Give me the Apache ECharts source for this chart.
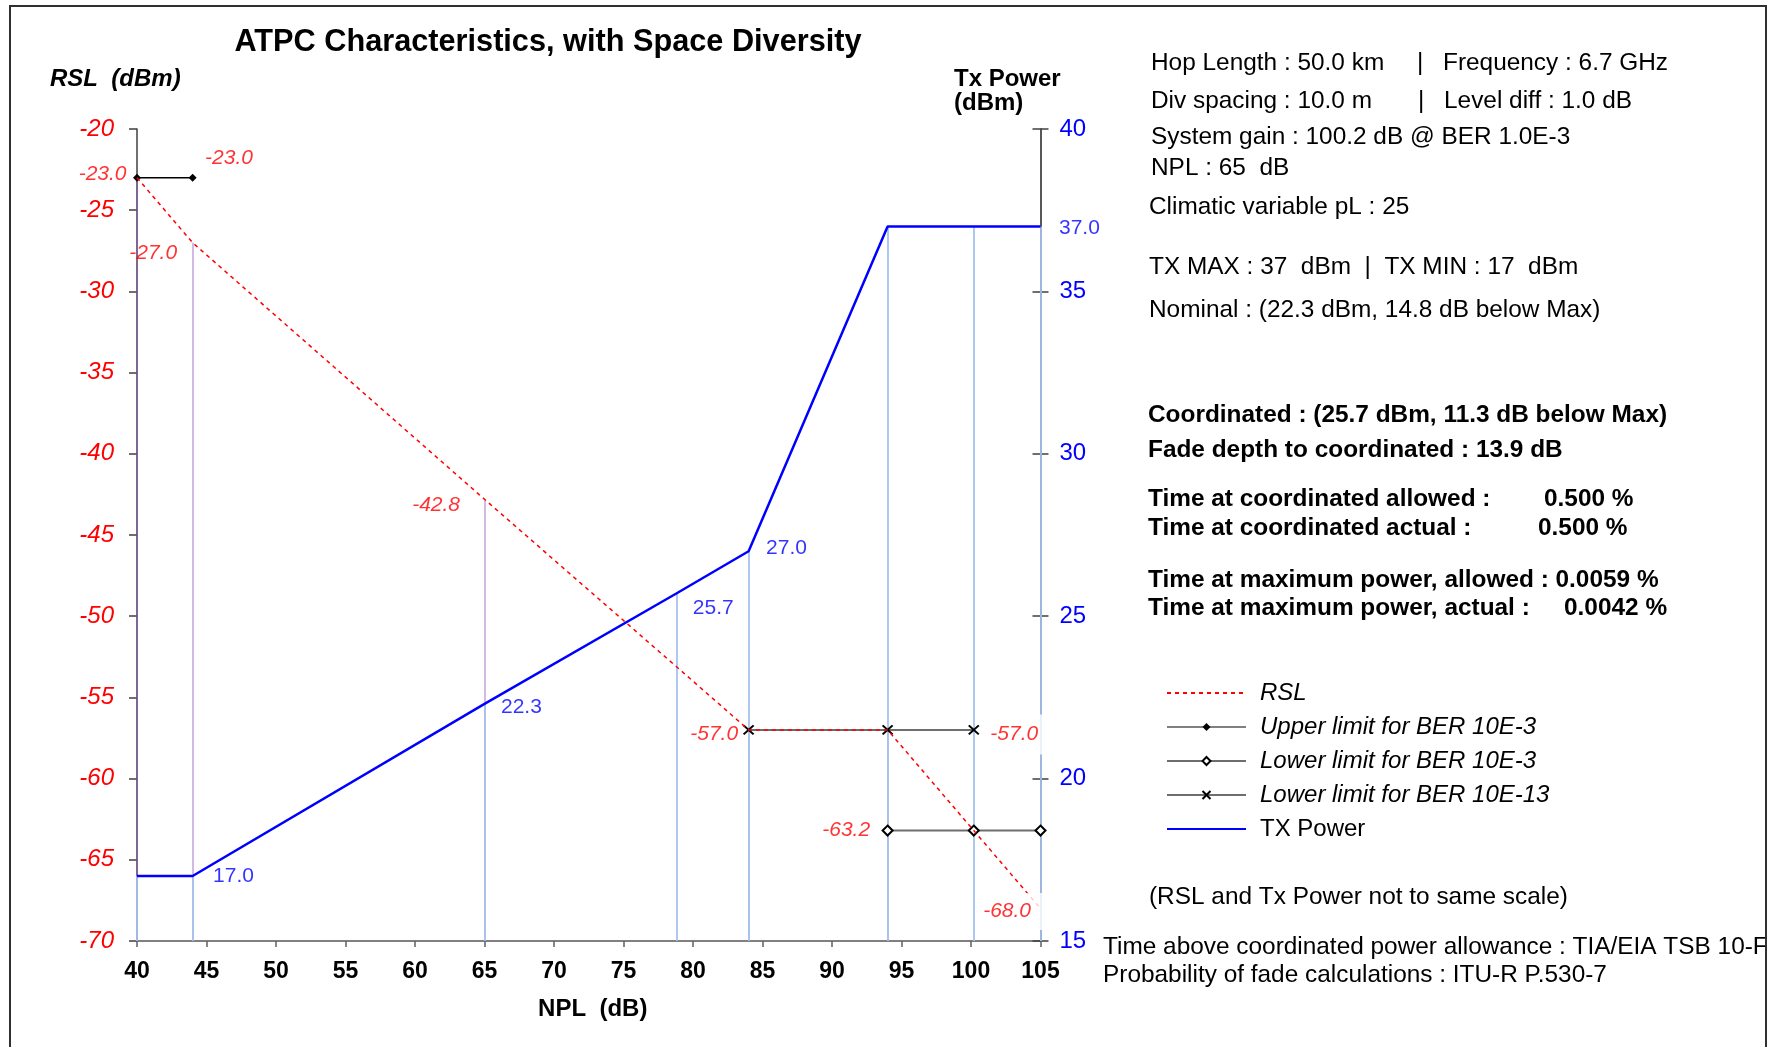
<!DOCTYPE html>
<html><head><meta charset="utf-8">
<script src="https://cdn.jsdelivr.net/npm/echarts@6/dist/echarts.min.js"></script>
<style>html,body{margin:0;padding:0;background:#fff}#c{width:1775px;height:1047px}</style>
</head><body><div id="c"></div>
<script>
const FONT = '"Liberation Sans", Arial, sans-serif';

// ---- data ----
const npl      = [40, 44, 65, 78.8, 84, 94, 100.2, 105];           // NPL break points (dB)
const txPower  = [17.0, 17.0, 22.3, 25.7, 27.0, 37.0, 37.0, 37.0];  // Tx power (dBm)
const rsl      = [-23.0, -27.0, -42.8, -53.1, -57.0, -57.0, -63.2, -68.0]; // RSL (dBm)
const upperLimitNpl = [40, 44];
const upperLimitRsl = [-23.0, -23.0];
const lower3Npl  = [94, 100.2, 105];
const lower3Rsl  = [-63.2, -63.2, -63.2];
const lower13Npl = [84, 94, 100.2];
const lower13Rsl = [-57.0, -57.0, -57.0];
const rslDropIdx = [0, 1, 2, 4, 5];
const xTicks   = {min: 40, max: 105, interval: 5};
const rslTicks = {min: -70, max: -20, interval: 5};
const txTicks  = {min: 15, max: 40, interval: 5};

const pairs = (xs, ys) => xs.map((x, i) => [x, ys[i]]);
const fmt1 = p => p.value[1].toFixed(1);

const chart = echarts.init(document.getElementById('c'), null, {renderer: 'canvas'});

const redLabel = {show: true, fontFamily: FONT, fontSize: 21, fontStyle: 'italic', color: '#ff0000', formatter: fmt1};
const blueLabel = {show: true, fontFamily: FONT, fontSize: 21, color: '#0000ff', formatter: fmt1};

const rslLabelData = [
  {value: [upperLimitNpl[0], upperLimitRsl[0]], label: {position: 'left', distance: 10, offset: [0, -4]}},
  {value: [upperLimitNpl[1], upperLimitRsl[1]], label: {position: 'right', distance: 12, offset: [0, -20]}},
  {value: [npl[1], rsl[1]], label: {position: 'left', distance: 15, offset: [0, 10]}},
  {value: [npl[2], rsl[2]], label: {position: 'left', distance: 24, offset: [0, 6]}},
  {value: [lower13Npl[0], lower13Rsl[0]], label: {position: 'left', distance: 10, offset: [0, 4]}},
  {value: [lower13Npl[2], lower13Rsl[2]], label: {position: 'right', distance: 12, offset: [0, 4.5], backgroundColor: '#fff', padding: [7, 4, 12, 4]}},
  {value: [lower3Npl[0], lower3Rsl[0]], label: {position: 'left', distance: 17, offset: [0, 0]}},
  {value: [npl[7], rsl[7]], label: {position: 'left', distance: 0, offset: [2, 3], backgroundColor: '#fff', padding: [6.5, 11, 9.5, 6]}}
];
const txLabelData = [
  {value: [npl[1], txPower[1]], label: {position: 'right', distance: 20, offset: [0, 0]}},
  {value: [npl[2], txPower[2]], label: {position: 'right', distance: 16, offset: [0, 3]}},
  {value: [npl[3], txPower[3]], label: {position: 'right', distance: 16, offset: [0, 15]}},
  {value: [npl[4], txPower[4]], label: {position: 'right', distance: 17, offset: [0, -3.5]}},
  {value: [npl[7], txPower[7]], label: {position: 'right', distance: 18, offset: [0, 1.5]}}
];

const infoReg = (x, y, t) => ({type: 'text', x, y, style: {text: t, font: '24.4px ' + FONT, fill: '#000', textVerticalAlign: 'middle'}});
const infoBold = (x, y, t) => ({type: 'text', x, y, style: {text: t, font: 'bold 24.4px ' + FONT, fill: '#000', textVerticalAlign: 'middle'}});
const hiddenSymbol = {color: 'rgba(0,0,0,0)', borderWidth: 0, borderColor: 'rgba(0,0,0,0)'};

const option = {
  animation: false,
  backgroundColor: '#fff',
  grid: {left: 137, top: 129, right: 734.5, bottom: 106, containLabel: false, outerBoundsMode: 'none'},
  xAxis: {
    type: 'value', min: xTicks.min, max: xTicks.max, interval: xTicks.interval,
    name: 'NPL  (dB)', nameLocation: 'middle', nameGap: 56,
    nameTextStyle: {fontFamily: FONT, fontSize: 24, fontWeight: 'bold', color: '#000', padding: [0, 0, 0, 8]},
    axisLine: {lineStyle: {color: '#808080', width: 2}},
    axisTick: {show: true, length: 6, lineStyle: {color: '#606060', width: 1.5}},
    axisLabel: {fontFamily: FONT, fontSize: 23, fontWeight: 'bold', color: '#000', margin: 19},
    splitLine: {show: false}
  },
  yAxis: [
    {
      type: 'value', min: rslTicks.min, max: rslTicks.max, interval: rslTicks.interval, position: 'left',
      axisLine: {show: true, lineStyle: {color: '#404040', width: 1.5}},
      axisTick: {show: true, length: 8, lineStyle: {color: '#404040', width: 1.5}},
      axisLabel: {fontFamily: FONT, fontSize: 24, fontStyle: 'italic', color: '#ff0000', margin: 23},
      splitLine: {show: false}
    },
    {
      type: 'value', min: txTicks.min, max: txTicks.max, interval: txTicks.interval, position: 'right',
      axisLine: {show: true, lineStyle: {color: '#202020', width: 1.5}},
      axisTick: {show: true, length: 8, lineStyle: {color: '#404040', width: 1.5}},
      axisLabel: {fontFamily: FONT, fontSize: 24, color: '#0000ff', margin: 19},
      splitLine: {show: false}
    },
    {
      type: 'value', min: txTicks.min, max: txTicks.max, interval: txTicks.interval, position: 'right',
      axisLine: {show: false},
      axisTick: {show: true, inside: true, length: 8, lineStyle: {color: '#404040', width: 1.5}},
      axisLabel: {show: false},
      splitLine: {show: false}
    }
  ],
  legend: {
    orient: 'vertical', left: 1166, top: 680, padding: 0,
    itemWidth: 79, itemHeight: 10, itemGap: 8,
    textStyle: {fontFamily: FONT, fontSize: 24, color: '#000', lineHeight: 26, padding: [0, 0, 0, 9]},
    selectedMode: false,
    data: [
      {name: 'RSL', textStyle: {fontStyle: 'italic'}, itemStyle: hiddenSymbol},
      {name: 'Upper limit for BER 10E-3', textStyle: {fontStyle: 'italic'}, lineStyle: {color: '#808080'}},
      {name: 'Lower limit for BER 10E-3', textStyle: {fontStyle: 'italic'}},
      {name: 'Lower limit for BER 10E-13', textStyle: {fontStyle: 'italic'}},
      {name: 'TX Power', itemStyle: hiddenSymbol}
    ]
  },
  graphic: [
    {type: 'text', x: 548, y: 43, style: {text: 'ATPC Characteristics, with Space Diversity', font: 'bold 30.7px ' + FONT, fill: '#000', textAlign: 'center', textVerticalAlign: 'middle'}},
    {type: 'text', x: 50, y: 79, style: {text: 'RSL  (dBm)', font: 'italic bold 24px ' + FONT, fill: '#000', textVerticalAlign: 'middle'}},
    {type: 'text', x: 954, y: 79, style: {text: 'Tx Power', font: 'bold 24px ' + FONT, fill: '#000', textVerticalAlign: 'middle'}},
    {type: 'text', x: 954, y: 103, style: {text: '(dBm)', font: 'bold 24px ' + FONT, fill: '#000', textVerticalAlign: 'middle'}},
    infoReg(1151, 63, 'Hop Length : 50.0 km'), infoReg(1417, 63, '|'), infoReg(1443, 63, 'Frequency : 6.7 GHz'),
    infoReg(1151, 101, 'Div spacing : 10.0 m'), infoReg(1418, 101, '|'), infoReg(1444, 101, 'Level diff : 1.0 dB'),
    infoReg(1151, 137, 'System gain : 100.2 dB @ BER 1.0E-3'),
    infoReg(1151, 168, 'NPL : 65  dB'),
    infoReg(1149, 207, 'Climatic variable pL : 25'),
    infoReg(1149, 267, 'TX MAX : 37  dBm  |  TX MIN : 17  dBm'),
    infoReg(1149, 310, 'Nominal : (22.3 dBm, 14.8 dB below Max)'),
    infoBold(1148, 415, 'Coordinated : (25.7 dBm, 11.3 dB below Max)'),
    infoBold(1148, 450, 'Fade depth to coordinated : 13.9 dB'),
    infoBold(1148, 499, 'Time at coordinated allowed :'), infoBold(1544, 499, '0.500 %'),
    infoBold(1148, 528, 'Time at coordinated actual :'), infoBold(1538, 528, '0.500 %'),
    infoBold(1148, 580, 'Time at maximum power, allowed : 0.0059 %'),
    infoBold(1148, 608, 'Time at maximum power, actual :'), infoBold(1564, 608, '0.0042 %'),
    infoReg(1149, 897, '(RSL and Tx Power not to same scale)'),
    infoReg(1103, 947, 'Time above coordinated power allowance : TIA/EIA TSB 10-F'),
    infoReg(1103, 975, 'Probability of fade calculations : ITU-R P.530-7'),
    {type: 'rect', z: 100, shape: {x: 10, y: 6, width: 1756, height: 1100}, style: {fill: 'none', stroke: '#303030', lineWidth: 2}}
  ],
  series: [
    {
      name: 'rslDrops', type: 'lines', coordinateSystem: 'cartesian2d', xAxisIndex: 0, yAxisIndex: 0,
      silent: true, z: 1,
      lineStyle: {color: 'rgba(150,90,190,0.42)', width: 2, opacity: 1, curveness: 0},
      data: rslDropIdx.map(i => ({coords: [[npl[i], rsl[i]], [npl[i], rslTicks.min]]}))
    },
    {
      name: 'txDrops', type: 'lines', coordinateSystem: 'cartesian2d', xAxisIndex: 0, yAxisIndex: 1,
      silent: true, z: 1,
      lineStyle: {color: 'rgb(165,195,238)', width: 1.8, opacity: 1, curveness: 0},
      data: npl.map((x, i) => ({coords: [[x, txPower[i]], [x, txTicks.min]]}))
    },
    {
      name: 'Upper limit for BER 10E-3', type: 'line', yAxisIndex: 0, z: 3,
      data: pairs(upperLimitNpl, upperLimitRsl),
      symbol: 'diamond', symbolSize: 8, showSymbol: true,
      lineStyle: {color: '#000', width: 1.5},
      itemStyle: {color: '#000'}
    },
    {
      name: 'Lower limit for BER 10E-3', type: 'line', yAxisIndex: 0, z: 3,
      data: pairs(lower3Npl, lower3Rsl),
      symbol: 'diamond', symbolSize: 10, showSymbol: true,
      lineStyle: {color: '#6e6e6e', width: 2},
      itemStyle: {color: '#fff', borderColor: '#000', borderWidth: 2}
    },
    {
      name: 'Lower limit for BER 10E-13', type: 'line', yAxisIndex: 0, z: 3,
      data: pairs(lower13Npl, lower13Rsl),
      symbol: 'path://M0,0L10,10M10,0L0,10', symbolSize: [10, 9], showSymbol: true,
      lineStyle: {color: '#6e6e6e', width: 2},
      itemStyle: {color: '#000', borderColor: '#000', borderWidth: 2}
    },
    {
      name: 'RSL', type: 'line', yAxisIndex: 0, z: 4,
      data: pairs(npl, rsl),
      symbol: 'none', showSymbol: false,
      lineStyle: {color: '#ff0000', width: 1.5, type: [4, 4]},
      itemStyle: {color: '#ff0000'}
    },
    {
      name: 'TX Power', type: 'line', yAxisIndex: 1, z: 5,
      data: pairs(npl, txPower),
      symbol: 'none', showSymbol: false,
      lineStyle: {color: '#0000ff', width: 2.5},
      itemStyle: {color: '#0000ff'}
    },
    {
      name: 'rslLabels', type: 'scatter', yAxisIndex: 0, z: 6, silent: true,
      symbolSize: 1, itemStyle: {color: 'transparent'},
      label: redLabel,
      data: rslLabelData
    },
    {
      name: 'txLabels', type: 'scatter', yAxisIndex: 1, z: 6, silent: true,
      symbolSize: 1, itemStyle: {color: 'transparent'},
      label: blueLabel,
      data: txLabelData
    }
  ]
};
chart.setOption(option);
</script>
</body></html>
